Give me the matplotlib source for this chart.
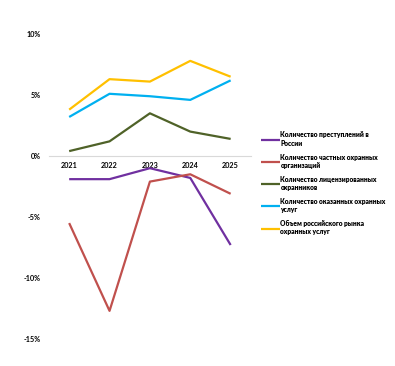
import matplotlib
matplotlib.use("Agg")
import matplotlib.pyplot as plt
from matplotlib.ticker import FuncFormatter

plt.rcParams["font.family"] = ["Lato", "DejaVu Sans"]

years = ["2021", "2022", "2023", "2024", "2025"]
crimes = [-1.9, -1.9, -1.0, -1.8, -7.3]
private_orgs = [-5.5, -12.7, -2.1, -1.5, -3.1]
licensed_guards = [0.4, 1.2, 3.5, 2.0, 1.4]
services = [3.2, 5.1, 4.9, 4.6, 6.2]
market = [3.8, 6.3, 6.1, 7.8, 6.5]

labels = [
    "Количество преступлений в\nРоссии",
    "Количество частных охранных\nорганизаций",
    "Количество лицензированных\nохранников",
    "Количество оказанных охранных\nуслуг",
    "Объем российского рынка\nохранных услуг",
]
colors = ["#7030A0", "#C0504D", "#4F6228", "#00B0F0", "#FFC000"]
series = [crimes, private_orgs, licensed_guards, services, market]

fig = plt.figure(figsize=(3.95, 3.66), dpi=100)
ax = fig.add_axes([0.124, 0.074, 0.511, 0.833])
x = list(range(len(years)))
for s, c, l in zip(series, colors, labels):
    ax.plot(x, s, color=c, lw=1.6, label=l, solid_capstyle="butt")

ax.set_xlim(-0.5, 4.5)
ax.set_ylim(-15, 10)
ax.set_yticks([-15, -10, -5, 0, 5, 10])
ax.yaxis.set_major_formatter(FuncFormatter(lambda v, p: f"{int(v)}%"))
for sp in ["top", "right", "left"]:
    ax.spines[sp].set_visible(False)
ax.spines["bottom"].set_position(("data", 0))
ax.spines["bottom"].set_color("#D9D9D9")
ax.spines["bottom"].set_linewidth(0.8)
ax.set_xticks(x)
ax.set_xticklabels(years)
ax.tick_params(axis="both", length=0, labelsize=5.2)
ax.tick_params(axis="x", pad=4)
ax.tick_params(axis="y", pad=6)
for t in ax.get_xticklabels() + ax.get_yticklabels():
    t.set_fontweight("bold")

leg = fig.legend(loc="upper left", bbox_to_anchor=(0.655, 0.648), frameon=False,
                 prop={"family": ["Lato", "DejaVu Sans"], "size": 4.8, "weight": "heavy"},
                 handlelength=2.8, handletextpad=0.05, labelspacing=1.05,
                 borderaxespad=0)

fig.savefig("out.png", dpi=100)
